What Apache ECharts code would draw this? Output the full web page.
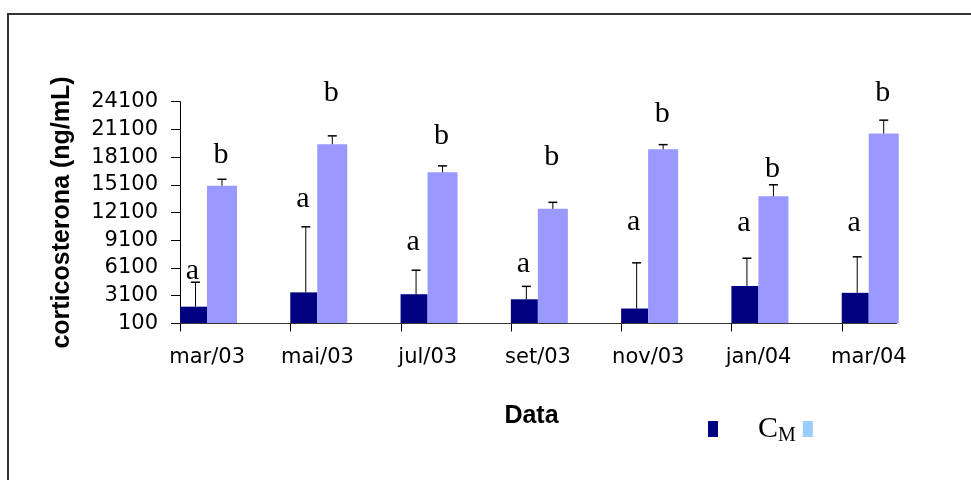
<!DOCTYPE html>
<html>
<head>
<meta charset="utf-8">
<script src="https://cdn.jsdelivr.net/npm/echarts@6/dist/echarts.min.js"></script>
<style>
  html, body { margin: 0; padding: 0; background: #fff; }
  #chart { width: 971px; height: 480px; }
</style>
</head>
<body>
<div id="chart"></div>
<script>
// Corticosterone by sampling date (mean + upper error bar)
const categories = ['mar/03', 'mai/03', 'jul/03', 'set/03', 'nov/03', 'jan/04', 'mar/04'];

const cmValues = [1900, 3450, 3250, 2700, 1700, 4150, 3400];
const cmErrors = [2650, 7100, 2600, 1400, 4950, 3000, 3900];
const clValues = [15000, 19500, 16450, 12500, 18950, 13850, 20650];
const clErrors = [700, 900, 700, 700, 500, 1250, 1450];

// Significance letters and the value level of their baseline
const cmLetters = ['a', 'a', 'a', 'a', 'a', 'a', 'a'];
const cmLetterAt = [4800, 12600, 7900, 5550, 10050, 10000, 10000];
const clLetters = ['b', 'b', 'b', 'b', 'b', 'b', 'b'];
const clLetterAt = [17350, 24100, 19350, 17100, 21800, 15850, 24100];

// Value axis
const AXIS_MIN = 100;
const AXIS_MAX = 24100;
const AXIS_STEP = 3000;

// Bar widths inside each category band (dark, light, then empty space)
const DARK_W = 27;
const LIGHT_W = 30;

const SANS = '"DejaVu Sans", sans-serif';
const ARIAL = '"Liberation Sans", Arial, sans-serif';
const SERIF = '"Liberation Serif", "Times New Roman", serif';

const chart = echarts.init(document.getElementById('chart'), null, { renderer: 'canvas' });

function errorBarRenderer(offsetFn) {
  return function (params, api) {
    const i = api.value(0);
    const base = api.coord([i, api.value(1)]);
    const top = api.coord([i, api.value(2)]);
    const band = api.size([1, 0])[0];
    const x = base[0] - band / 2 + offsetFn();
    const cap = 4.5;
    return {
      type: 'group',
      children: [
        { type: 'line', shape: { x1: x, y1: base[1], x2: x, y2: top[1] },
          style: { stroke: '#000', lineWidth: 1 } },
        { type: 'line', shape: { x1: x - cap, y1: top[1], x2: x + cap, y2: top[1] },
          style: { stroke: '#000', lineWidth: 1.5 } }
      ]
    };
  };
}

function letterRenderer(offsetFn, letters) {
  return function (params, api) {
    const i = api.value(0);
    const p = api.coord([i, api.value(1)]);
    const band = api.size([1, 0])[0];
    return {
      type: 'text',
      x: p[0] - band / 2 + offsetFn(),
      y: p[1] - 9,
      style: {
        text: letters[params.dataIndex],
        font: '30px ' + SERIF,
        fill: '#000',
        align: 'center',
        verticalAlign: 'middle'
      }
    };
  };
}

const option = {
  backgroundColor: '#fff',
  animation: false,
  grid: { left: 180, right: 19, top: 101.7, bottom: 156.7, containLabel: false },
  graphic: [
    { type: 'rect', z: 100, silent: true,
      shape: { x: 8, y: 14, width: 1100, height: 600 },
      style: { fill: null, stroke: '#333', lineWidth: 2 } }
  ],
  legend: {
    left: 708,
    top: 412,
    padding: 0,
    itemGap: 7,
    itemWidth: 10,
    itemHeight: 16,
    icon: 'rect',
    selectedMode: false,
    data: [
      { name: 'CM', itemStyle: { color: '#000080' } },
      { name: 'CL', itemStyle: { color: '#99CCFF' } }
    ],
    formatter: function (name) {
      return name === 'CM' ? '{c|C}{m|M}' : '';
    },
    textStyle: {
      color: '#000',
      rich: {
        c: { fontFamily: SERIF, fontSize: 30, lineHeight: 34, padding: [0, 0, 0, 35], color: '#000' },
        m: { fontFamily: SERIF, fontSize: 20, lineHeight: 20, padding: [14, 0, 0, 0], color: '#000' }
      }
    }
  },
  xAxis: {
    type: 'category',
    data: categories,
    boundaryGap: true,
    axisLine: { show: false },
    axisTick: { show: false },
    axisLabel: {
      color: '#000',
      fontFamily: SANS,
      fontSize: 21,
      margin: 24,
      padding: [0, 56, 0, 0]
    },
    name: 'Data',
    nameLocation: 'middle',
    nameGap: 80,
    nameTextStyle: {
      color: '#000',
      fontFamily: ARIAL,
      fontWeight: 'bold',
      fontSize: 25,
      padding: [0, 69, 0, 0]
    }
  },
  yAxis: {
    type: 'value',
    min: AXIS_MIN,
    max: AXIS_MAX,
    interval: AXIS_STEP,
    startValue: AXIS_MIN,
    splitLine: { show: false },
    axisLine: { show: true, lineStyle: { color: '#000', width: 1 } },
    axisTick: { show: true, length: 9, lineStyle: { color: '#000' } },
    axisLabel: {
      color: '#000',
      fontFamily: SANS,
      fontSize: 21,
      margin: 22,
      formatter: function (v) { return String(v); }
    },
    name: 'corticosterona (ng/mL)',
    nameLocation: 'middle',
    nameGap: 105,
    nameTextStyle: {
      color: '#000',
      fontFamily: ARIAL,
      fontWeight: 'bold',
      fontSize: 25
    }
  },
  series: [
    {
      name: 'CM',
      type: 'bar',
      data: cmValues,
      barWidth: DARK_W,
      barGap: '0%',
      itemStyle: { color: '#000080' },
      z: 2
    },
    {
      name: 'CL',
      type: 'bar',
      data: clValues,
      barWidth: LIGHT_W,
      barGap: '0%',
      itemStyle: { color: '#9999FF' },
      z: 2
    },
    {
      // empty slot that keeps the pair on the left of each band
      name: 'slot',
      type: 'bar',
      data: categories.map(() => null),
      barWidth: 53.3,
      barGap: '0%',
      silent: true
    },
    {
      name: 'baseline',
      type: 'custom',
      silent: true,
      z: 4,
      data: [[0, AXIS_MIN]],
      renderItem: function (params, api) {
        const band = api.size([1, 0])[0];
        const first = api.coord([0, AXIS_MIN]);
        const last = api.coord([categories.length - 1, AXIS_MIN]);
        const y = Math.round(first[1]) + 0.5;
        const children = [
          { type: 'line', shape: { x1: first[0] - band / 2, y1: y, x2: last[0], y2: y },
            style: { stroke: '#333', lineWidth: 1 } }
        ];
        for (let i = 0; i < categories.length; i++) {
          const c = api.coord([i, AXIS_MIN]);
          const x = Math.round(c[0] - band / 2) + 0.5;
          children.push({ type: 'line', shape: { x1: x, y1: y, x2: x, y2: y + 8 },
            style: { stroke: '#000', lineWidth: 1 } });
        }
        return { type: 'group', children: children };
      }
    },
    {
      name: 'CM error',
      type: 'custom',
      silent: true,
      z: 3,
      data: categories.map((c, i) => [i, cmValues[i], cmValues[i] + cmErrors[i]]),
      renderItem: errorBarRenderer(() => DARK_W / 2 + 2)
    },
    {
      name: 'CL error',
      type: 'custom',
      silent: true,
      z: 3,
      data: categories.map((c, i) => [i, clValues[i], clValues[i] + clErrors[i]]),
      renderItem: errorBarRenderer(() => DARK_W + LIGHT_W / 2)
    },
    {
      name: 'CM letters',
      type: 'custom',
      silent: true,
      clip: false,
      z: 5,
      data: categories.map((c, i) => [i, cmLetterAt[i]]),
      renderItem: letterRenderer(() => DARK_W / 2 - 1, cmLetters)
    },
    {
      name: 'CL letters',
      type: 'custom',
      silent: true,
      clip: false,
      z: 5,
      data: categories.map((c, i) => [i, clLetterAt[i]]),
      renderItem: letterRenderer(() => DARK_W + LIGHT_W / 2 - 1, clLetters)
    }
  ]
};

chart.setOption(option);
</script>
</body>
</html>
